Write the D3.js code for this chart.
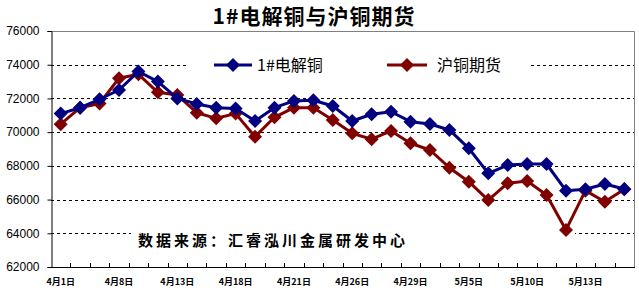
<!DOCTYPE html>
<html>
<head>
<meta charset="utf-8">
<script src="https://cdn.jsdelivr.net/npm/d3@7"></script>
<style>
  body { margin: 0; background: #fff; }
  svg { display: block; }
</style>
</head>
<body>
<script>
// categories (trading days), only every 3rd one is labelled on the axis
var days = ['4月1日', '4月2日', '4月7日', '4月8日', '4月9日', '4月12日', '4月13日', '4月14日', '4月15日',
            '4月18日', '4月19日', '4月20日', '4月21日', '4月22日', '4月23日', '4月26日', '4月27日', '4月28日',
            '4月29日', '4月30日', '5月4日', '5月5日', '5月6日', '5月7日', '5月10日', '5月11日', '5月12日',
            '5月13日', '5月14日', '5月17日'];
var spot = [71100, 71450, 71950, 72500, 73600, 73000, 72000, 71670, 71450, 71400,
            70660, 71450, 71850, 71890, 71550, 70660, 71060, 71210, 70620, 70480,
            70130, 69040, 67560, 68050, 68110, 68110, 66530, 66610, 66920, 66630];
var futures = [70470, 71450, 71700, 73200, 73430, 72360, 72200, 71150, 70820, 71100,
               69730, 70880, 71450, 71450, 70720, 69930, 69580, 70070, 69340, 68940,
               67890, 67060, 65970, 66970, 67100, 66270, 64200, 66530, 65870, 66610];
var yTicks = [62000, 64000, 66000, 68000, 70000, 72000, 74000, 76000];
var seriesNames = ['1#电解铜', '沪铜期货'];

var width = 639, height = 292;
var pL = 51, pR = 634, pT = 31, pB = 267;

var svg = d3.select('body').append('svg')
  .attr('width', width)
  .attr('height', height);

var x = d3.scaleBand().domain(days).range([pL, pR]).padding(0);
var y = d3.scaleLinear().domain([62000, 76000]).range([pB, pT]);

// title
svg.append('text')
  .attr('x', 314).attr('y', 24)
  .attr('text-anchor', 'middle')
  .style('font-family', '"Noto Sans CJK SC"')
  .style('font-weight', 'bold')
  .style('font-size', '21px')
  .style('letter-spacing', '1px')
  .text('1#电解铜与沪铜期货');

// dashed grid
svg.append('g').selectAll('line')
  .data(yTicks.filter(d => d > 62000 && d < 76000))
  .enter().append('line')
  .attr('x1', pL).attr('x2', pR)
  .attr('y1', d => Math.round(y(d)) + 0.5).attr('y2', d => Math.round(y(d)) + 0.5)
  .attr('stroke', '#000')
  .attr('stroke-width', 1)
  .attr('stroke-dasharray', '3,3');

// white boxes behind legend and source note
svg.append('rect').attr('x', 186).attr('y', 50).attr('width', 342).attr('height', 32).attr('fill', '#fff');
svg.append('rect').attr('x', 131).attr('y', 226).attr('width', 444).attr('height', 24).attr('fill', '#fff');

// top / right border (grey)
svg.append('path')
  .attr('d', 'M' + pL + ',' + (pT + 0.5) + 'H' + (pR + 0.5) + 'V' + pB)
  .attr('fill', 'none').attr('stroke', '#808080');

// y axis
var yAxis = d3.axisLeft(y).tickValues(yTicks).tickSize(4).tickPadding(8).tickFormat(d3.format('d'));
var gy = svg.append('g').attr('transform', 'translate(' + (pL + 0.5) + ',0)').call(yAxis);
gy.selectAll('text')
  .style('font-family', '"Liberation Sans", Arial, sans-serif')
  .style('font-size', '12px')
  .attr('fill', '#000');

// x axis
var xAxis = d3.axisBottom(x)
  .tickValues(days.filter((d, i) => i % 3 === 0))
  .tickSize(0).tickPadding(12);
var gx = svg.append('g').attr('transform', 'translate(0,' + pB + ')').call(xAxis);
gx.select('.domain').remove();
gx.selectAll('text')
  .style('font-family', '"Noto Sans CJK SC"')
  .style('font-size', '9px')
  .style('font-weight', 'bold')
  .attr('fill', '#000');
svg.append('line')
  .attr('x1', pL).attr('x2', pR + 1).attr('y1', pB + 0.5).attr('y2', pB + 0.5)
  .attr('stroke', '#000');
// category boundary ticks
svg.append('g').selectAll('line')
  .data(days.slice(1))
  .enter().append('line')
  .attr('x1', d => Math.round(x(d)) + 0.5).attr('x2', d => Math.round(x(d)) + 0.5)
  .attr('y1', pB).attr('y2', pB - 4)
  .attr('stroke', '#000');

var cx = d => x(d) + x.bandwidth() / 2;
var diamond = 'M0,-7L7,0L0,7L-7,0Z';

function drawSeries(vals, color) {
  var line = d3.line().x((d, i) => cx(days[i])).y(d => y(d));
  svg.append('path').datum(vals)
    .attr('d', line)
    .attr('fill', 'none')
    .attr('stroke', color)
    .attr('stroke-width', 3)
    .attr('stroke-linejoin', 'round');
  svg.append('g').selectAll('path')
    .data(vals)
    .enter().append('path')
    .attr('d', diamond)
    .attr('transform', (d, i) => 'translate(' + cx(days[i]) + ',' + y(d) + ')')
    .attr('fill', color);
}
drawSeries(futures, '#800000');
drawSeries(spot, '#000080');

// legend
var legend = [
  { name: seriesNames[0], color: '#000080', x0: 214, x1: 252, tx: 257 },
  { name: seriesNames[1], color: '#800000', x0: 387, x1: 427, tx: 437 }
];
legend.forEach(function (l) {
  svg.append('line')
    .attr('x1', l.x0).attr('x2', l.x1).attr('y1', 65).attr('y2', 65)
    .attr('stroke', l.color).attr('stroke-width', 3);
  svg.append('path')
    .attr('d', diamond)
    .attr('transform', 'translate(' + (l.x0 + l.x1) / 2 + ',65)')
    .attr('fill', l.color);
  svg.append('text')
    .attr('x', l.tx).attr('y', 71)
    .style('font-family', '"Noto Sans CJK SC"')
    .style('font-size', '16px')
    .text(l.name);
});

// source note
svg.append('text')
  .attr('x', 138).attr('y', 246)
  .style('font-family', '"Noto Sans CJK SC"')
  .style('font-weight', 'bold')
  .style('font-size', '15px')
  .style('letter-spacing', '3px')
  .text('数据来源：汇睿泓川金属研发中心');
</script>
</body>
</html>
